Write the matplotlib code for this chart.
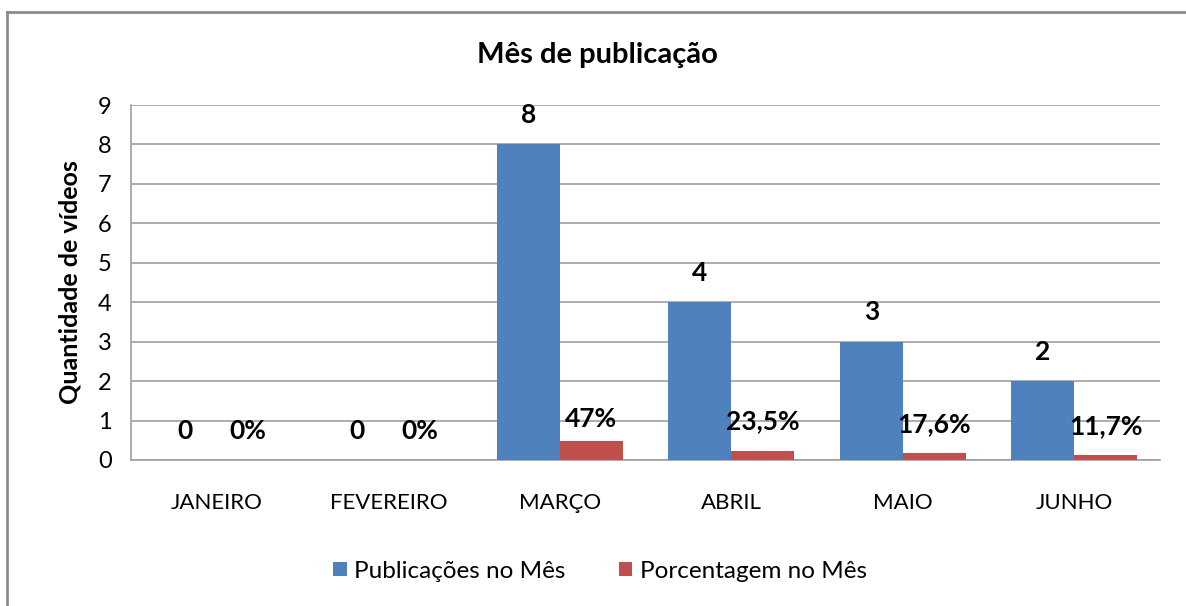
import matplotlib
matplotlib.use('Agg')
import matplotlib.pyplot as plt
import numpy as np
from matplotlib.lines import Line2D

months = ['JANEIRO', 'FEVEREIRO', 'MARÇO', 'ABRIL', 'MAIO', 'JUNHO']
publicacoes = [0, 0, 8, 4, 3, 2]
porcentagem = [0, 0, 0.47, 0.235, 0.176, 0.117]
pct_labels = ['0%', '0%', '47%', '23,5%', '17,6%', '11,7%']

blue = '#4F81BD'
red = '#C0504D'
grid_color = '#A0A0A0'

plt.rcParams['font.family'] = ['Lato', 'DejaVu Sans']

fig = plt.figure(figsize=(11.86, 6.06), dpi=100)
ax = fig.add_axes([131 / 1186, 1 - 460 / 606, 1029 / 1186, 355 / 606])

x = np.arange(len(months))
w = 0.367
b1 = ax.bar(x - w / 2, publicacoes, w, color=blue, label='Publicações no Mês', zorder=3)
b2 = ax.bar(x + w / 2, porcentagem, w, color=red, label='Porcentagem no Mês', zorder=3)

for rect, v in zip(b1, publicacoes):
    ax.annotate(str(v), (rect.get_x() + rect.get_width() / 2, rect.get_height()),
                xytext=(0, 21), textcoords='offset points', ha='center', va='center',
                fontsize=19, fontweight='bold')
for rect, lab in zip(b2, pct_labels):
    off = 16 if rect.get_height() > 0.4 else 21
    ax.annotate(lab, (rect.get_x() + rect.get_width() / 2, rect.get_height()),
                xytext=(0, off), textcoords='offset points', ha='center', va='center',
                fontsize=19, fontweight='bold')

ax.set_xlim(-0.5, len(months) - 0.5)
ax.set_ylim(0, 9)
ax.set_yticks(range(0, 10))
ax.set_xticks(x)
ax.set_xticklabels(months, fontsize=16)
ax.tick_params(axis='y', labelsize=17, length=0, pad=14)
ax.tick_params(axis='x', length=0, pad=24)
ax.grid(axis='y', color=grid_color, linewidth=1.2, zorder=0)
for s in ['top', 'right']:
    ax.spines[s].set_visible(False)
ax.spines['left'].set_color(grid_color)
ax.spines['bottom'].set_color(grid_color)
ax.spines['left'].set_linewidth(1.2)
ax.spines['bottom'].set_linewidth(1.2)

ax.set_ylabel('Quantidade de vídeos', fontsize=18, fontweight='bold', labelpad=12)
fig.text(597 / 1186, 1 - 55 / 606, 'Mês de publicação', ha='center', va='center',
         fontsize=21, fontweight='bold')

fig.legend(handles=[b1, b2], loc='center', bbox_to_anchor=(600 / 1186, 1 - 571 / 606),
           ncol=2, frameon=False, fontsize=17.5, handlelength=0.55, handleheight=0.55,
           handletextpad=0.3, columnspacing=2.2)

fig.add_artist(Line2D([7 / 1186, 7 / 1186], [0, 1 - 12 / 606], transform=fig.transFigure,
                      color='#8C8C8C', linewidth=2))
fig.add_artist(Line2D([7 / 1186, 1], [1 - 12 / 606, 1 - 12 / 606], transform=fig.transFigure,
                      color='#8C8C8C', linewidth=2))

fig.savefig('out.png', dpi=100)
